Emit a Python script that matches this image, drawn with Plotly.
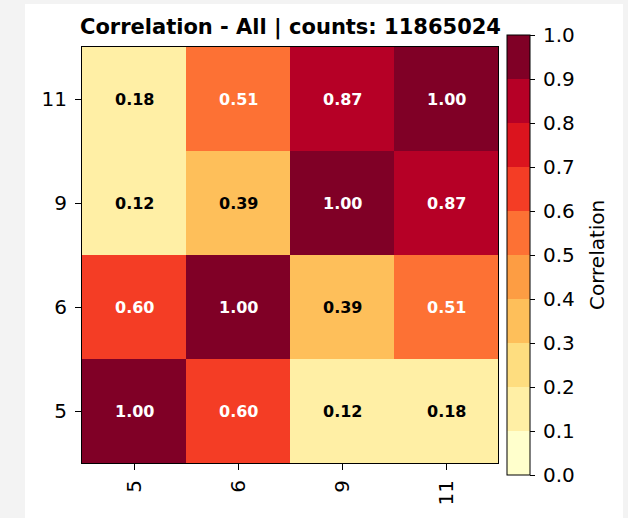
import plotly.graph_objects as go

# Correlation matrix between feature groups
labels = ["5", "6", "9", "11"]
corr = [
    [1.00, 0.60, 0.12, 0.18],
    [0.60, 1.00, 0.39, 0.51],
    [0.12, 0.39, 1.00, 0.87],
    [0.18, 0.51, 0.87, 1.00],
]
total_count = 11865024
cbar_ticks = [0.0, 0.1, 0.2, 0.3, 0.4, 0.5, 0.6, 0.7, 0.8, 0.9, 1.0]

# Ten-step YlOrRd palette (one colour per 0.1 band)
band_colors = [
    "rgb(255,255,204)", "rgb(255,239,165)", "rgb(254,221,127)", "rgb(254,191,90)",
    "rgb(253,157,67)", "rgb(253,113,52)", "rgb(244,61,37)", "rgb(219,20,30)",
    "rgb(182,0,38)", "rgb(128,0,38)",
]
n = len(band_colors)
colorscale = []
for i, c in enumerate(band_colors):
    colorscale.append([i / n, c])
    colorscale.append([(i + 1) / n, c])

W, H = 628, 518
L, R, T, B = 82, 130, 47, 55
pw = W - L - R
ph = H - T - B
FONT = "DejaVu Sans"

fig = go.Figure(
    go.Heatmap(
        x=labels,
        y=labels,
        z=corr,
        zmin=0,
        zmax=1,
        colorscale=colorscale,
        hoverinfo="skip",
        colorbar=dict(
            tickvals=cbar_ticks,
            # small leading gap between tick marks and labels
            ticktext=["\u200b\u2009" + f"{v:.1f}" for v in cbar_ticks],
            ticks="outside",
            ticklen=5,
            tickwidth=1,
            tickcolor="black",
            tickfont=dict(size=20, color="black", family=FONT),
            thickness=23,
            thicknessmode="pixels",
            len=440,
            lenmode="pixels",
            x=(507 - L) / pw,
            xanchor="left",
            y=0.5,
            yanchor="middle",
            outlinewidth=1,
            outlinecolor="black",
            xpad=0,
            ypad=0,
        ),
    )
)

# Colorbar label
fig.add_annotation(
    x=(597 - L) / pw, y=0.5, xref="paper", yref="paper",
    xanchor="center", yanchor="middle", textangle=-90,
    text="Correlation", showarrow=False,
    font=dict(size=20, color="black", family=FONT),
)

# Value labels in every cell (positioned by category index)
for i, row_label in enumerate(labels):
    for j, col_label in enumerate(labels):
        v = corr[i][j]
        fig.add_annotation(
            x=labels.index(col_label),
            y=labels.index(row_label),
            text=f"<b>{v:.2f}</b>",
            showarrow=False,
            font=dict(size=16, color="white" if v >= 0.5 else "black", family=FONT),
        )

# White figure panel on a light grey page
fig.add_shape(
    type="rect", xref="paper", yref="paper", layer="below",
    x0=(25 - L) / pw, x1=(623 - L) / pw,
    y0=(ph - (518 - T)) / ph, y1=(ph - (4 - T)) / ph,
    fillcolor="white", line=dict(width=0),
)

fig.add_annotation(
    x=0.5, y=1, xref="paper", yref="paper",
    xanchor="center", yanchor="bottom", yshift=5,
    text=f"<b>Correlation - All | counts: {total_count}</b>",
    showarrow=False,
    font=dict(size=21, color="black", family=FONT),
)

axis_common = dict(
    type="category",
    range=[-0.5, len(labels) - 0.5],
    showgrid=False,
    zeroline=False,
    showline=True,
    linecolor="black",
    linewidth=1,
    mirror=True,
    ticks="outside",
    ticklen=6,
    tickcolor="black",
    tickfont=dict(size=20, color="black", family=FONT),
)

fig.update_layout(
    width=W,
    height=H,
    margin=dict(l=L, r=R, t=T, b=B),
    paper_bgcolor="rgb(243,243,243)",
    plot_bgcolor="white",
    xaxis=dict(axis_common, tickangle=-90, ticklabelstandoff=2),
    yaxis=dict(axis_common, ticklabelstandoff=4),
    font=dict(family=FONT, color="black"),
)

fig.write_html("out.html")
